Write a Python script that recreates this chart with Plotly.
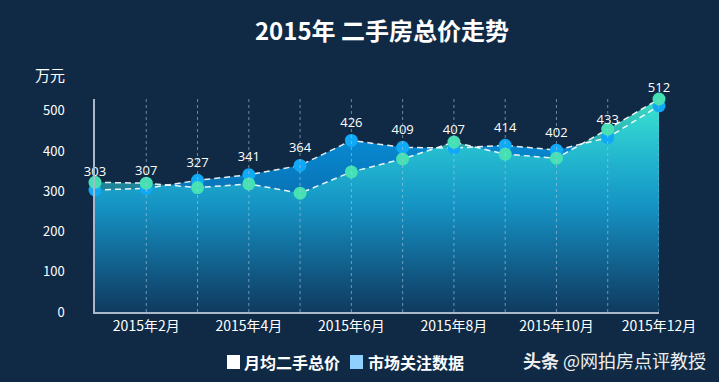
import plotly.graph_objects as go

months = ["2015年1月", "2015年2月", "2015年3月", "2015年4月", "2015年5月", "2015年6月",
          "2015年7月", "2015年8月", "2015年9月", "2015年10月", "2015年11月", "2015年12月"]
avg_price = [303, 307, 327, 341, 364, 426, 409, 407, 414, 402, 433, 512]
market_attention = [322, 320, 309, 318, 295, 348, 380, 422, 392, 382, 454, 529]
y_ticks = [0, 100, 200, 300, 400, 500]

series_names = ["月均二手总价", "市场关注数据"]

BG = "#102a45"
FONT = "Noto Sans CJK SC"

xs = list(range(len(months)))
ticktext = [m if i % 2 == 1 else "" for i, m in enumerate(months)]

fig = go.Figure()

# fills
fig.add_trace(go.Scatter(
    x=xs, y=avg_price, mode="none", fill="tozeroy",
    fillgradient=dict(type="vertical",
                      colorscale=[[0, "#0e2f52"], [0.5, "#0a6db0"], [1, "#0598e2"]]),
    hoverinfo="skip", showlegend=False))
fig.add_trace(go.Scatter(
    x=xs, y=market_attention, mode="none", fill="tozeroy",
    fillgradient=dict(type="vertical",
                      colorscale=[[0, "rgba(20,85,125,0.30)"],
                                  [0.5, "rgba(32,182,212,0.52)"],
                                  [1, "rgba(64,232,204,0.95)"]]),
    hoverinfo="skip", showlegend=False))

# lines + markers
fig.add_trace(go.Scatter(
    x=xs, y=avg_price, mode="lines+markers", name=series_names[0],
    line=dict(color="rgba(255,255,255,0.9)", width=1.5, dash="6px,4px"),
    marker=dict(color="#10a9f6", size=13), showlegend=False, cliponaxis=False))
fig.add_trace(go.Scatter(
    x=xs, y=market_attention, mode="lines+markers", name=series_names[1],
    line=dict(color="rgba(255,255,255,0.9)", width=1.5, dash="6px,4px"),
    marker=dict(color="#45e0b4", size=13), showlegend=False, cliponaxis=False))

# labels
fig.add_trace(go.Scatter(
    x=xs, y=avg_price, mode="markers+text", text=[str(v) for v in avg_price],
    marker=dict(size=15, opacity=0),
    textposition="top center", textfont=dict(color="#ffffff", size=13, family="Open Sans"),
    hoverinfo="skip", showlegend=False, cliponaxis=False))

L, R, T, B = 95, 659, 99, 312
W, H = 719, 382


def px(x):
    return (x - L) / (R - L)


def py(y):
    return (B - y) / (B - T)


shapes = [
    dict(type="line", xref="x", yref="paper", x0=i, x1=i, y0=0, y1=1, layer="above",
         line=dict(color="rgba(175,200,225,0.6)", width=1, dash="3px,3px"))
    for i in xs[1:]
]
shapes += [
    dict(type="rect", xref="paper", yref="paper", x0=px(227), x1=px(240), y0=py(369), y1=py(355),
         fillcolor="#ffffff", line=dict(width=0)),
    dict(type="rect", xref="paper", yref="paper", x0=px(350), x1=px(363), y0=py(369), y1=py(355),
         fillcolor="#8fd0ff", line=dict(width=0)),
]

annotations = [
    dict(text="万元", xref="paper", yref="paper", x=px(50), y=py(75), showarrow=False,
         font=dict(color="#ffffff", size=15, family=FONT), xanchor="center", yanchor="middle"),
    dict(text="<b>" + series_names[0] + "</b>", xref="paper", yref="paper", x=px(242), y=py(362),
         showarrow=False, xanchor="left", yanchor="middle",
         font=dict(color="#ffffff", size=16, family=FONT)),
    dict(text="<b>" + series_names[1] + "</b>", xref="paper", yref="paper", x=px(366), y=py(362),
         showarrow=False, xanchor="left", yanchor="middle",
         font=dict(color="#ffffff", size=16, family=FONT)),
    dict(text="<b>头条</b> @网拍房点评教授", xref="paper", yref="paper", x=px(521), y=py(360),
         showarrow=False, xanchor="left", yanchor="middle",
         font=dict(color="#eeeeee", size=18, family=FONT)),
]

fig.update_layout(
    width=W, height=H,
    margin=dict(l=L, r=W - R, t=T, b=H - B),
    paper_bgcolor=BG, plot_bgcolor=BG,
    title=dict(text="<b>2015年 二手房总价走势</b>", x=382 / W, xanchor="center",
               y=1 - 32 / H, yanchor="middle", yref="container",
               font=dict(color="#ffffff", size=24, family=FONT)),
    xaxis=dict(range=[0, len(months) - 1], tickvals=xs, ticktext=ticktext,
               showgrid=False,
               showline=True, linecolor="#a8b8c8", linewidth=1.5,
               zeroline=False, ticks="", tickfont=dict(color="#ffffff", size=14, family=FONT)),
    yaxis=dict(range=[0, 529], tickvals=y_ticks, showgrid=False, zeroline=False,
               showline=True, linecolor="#a8b8c8", linewidth=1.5, ticks="",
               ticklabelstandoff=26,
               tickfont=dict(color="#ffffff", size=13, family=FONT)),
    shapes=shapes, annotations=annotations,
    showlegend=False,
)

fig.write_html("out.html",
               config={"displayModeBar": False},
               post_script="document.body.style.margin='0';document.body.style.overflow='hidden';"
                           "document.body.style.background='" + BG + "';")
